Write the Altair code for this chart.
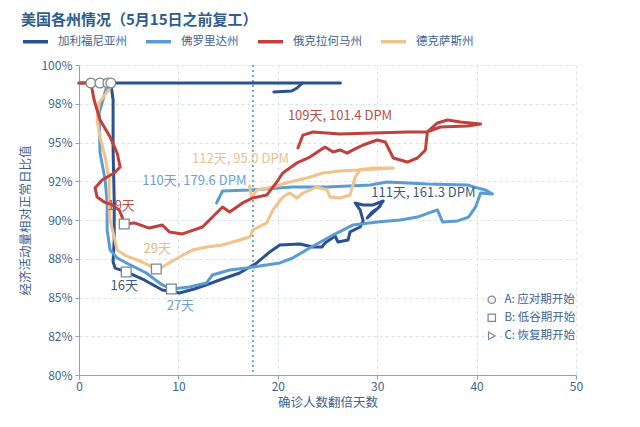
import altair as alt
import pandas as pd

FONT = "Noto Sans CJK SC"
TXT = "#3d6391"

series_names = ["加利福尼亚州", "佛罗里达州", "俄克拉何马州", "德克萨斯州"]
series_colors = ["#2c5190", "#5b9bd5", "#c0413b", "#f2c28c"]

# California (main path)
ca_x = [0, 3.2, 3.43, 3.43, 3.54, 3.54, 3.43, 3.64, 4.75, 6.57, 8.38, 10.1, 11.6, 12.83, 14.14, 16.16,
        17.88, 19.19, 20.2, 22.22, 23.54, 24.44, 24.75, 25.76, 26.06, 27.07, 27.27, 28.28, 28.59, 28.28,
        27.78, 28.59, 29.6, 30.61, 30.1, 29.49, 29.0, 30.3]
ca_y = [98.84, 98.84, 97.74, 94.52, 91.29, 88.71, 87.29, 86.9, 86.65, 86.13, 85.48, 85.29, 85.55, 85.81,
        86.13, 86.58, 87.23, 87.94, 88.39, 88.45, 88.26, 88.26, 88.52, 88.97, 88.58, 88.71, 89.23, 89.55,
        89.94, 90.65, 91.1, 90.97, 90.97, 91.23, 90.77, 90.52, 90.13, 90.9]
ca_top_x = [3.2, 26.3]
ca_top_y = [98.84, 98.84]
ca_small_x = [19.6, 21.4, 21.9, 22.5]
ca_small_y = [98.26, 98.32, 98.5, 98.84]

# Florida
fl_x = [0, 2.9, 2.02, 2.12, 2.63, 2.83, 2.83, 3.13, 3.84, 5.15, 6.77, 8.38, 9.29, 11.11, 12.83, 13.43,
        15.15, 16.87, 18.18, 20.2, 21.5, 23.2, 25.56, 27.58, 30.0, 32.32, 34.04, 36.06, 36.57, 38.08,
        39.19, 39.9, 40.4, 41.6, 40.9, 40.1, 39.1, 35.05, 31.0, 29.3, 24.95, 21.5, 17.17, 14.44, 13.84]
fl_y = [98.84, 98.84, 96.9, 94.32, 92.58, 91.1, 89.35, 88.06, 87.55, 87.1, 86.58, 85.81, 85.55, 85.68,
        85.94, 86.45, 86.77, 86.9, 87.03, 87.23, 87.55, 88.19, 89.03, 89.68, 89.87, 90.0, 90.19, 90.65,
        89.87, 89.94, 90.19, 90.84, 91.74, 91.68, 91.94, 92.06, 92.26, 92.32, 92.45, 92.26, 92.13, 92.13,
        91.94, 91.87, 91.1]

# Oklahoma
ok_x = [0, 1.2, 1.52, 2.12, 3.13, 3.84, 4.14, 3.54, 2.32, 1.62, 1.82, 2.53, 3.33, 4.04, 4.34, 4.55,
        5.56, 7.07, 8.38, 9.09, 10.4, 12.42, 13.43, 14.44, 15.15, 16.46, 17.47, 18.89, 19.9, 20.5, 21.92,
        23.23, 24.75, 25.56, 26.26, 26.97, 27.58, 28.59, 30.0, 30.81, 31.62, 33.03, 34.04, 34.85, 35.05,
        36.06, 37.07, 38.38, 40.4, 39.09, 36.36, 35.05, 33.03, 29.6, 26.26, 23.54, 22.53, 22.02]
ok_y = [98.84, 98.84, 97.74, 96.45, 95.35, 94.32, 93.42, 93.03, 92.58, 92.06, 91.48, 91.16, 90.97, 90.65,
        90.19, 89.74, 89.81, 89.48, 89.68, 89.23, 89.1, 89.55, 90.19, 90.84, 90.52, 91.1, 91.42, 91.61,
        92.45, 93.03, 93.68, 94.06, 94.71, 94.39, 94.52, 94.32, 94.52, 94.84, 95.16, 95.03, 94.0, 93.74,
        94.0, 94.52, 95.68, 96.26, 96.45, 96.32, 96.19, 96.06, 96.0, 95.68, 95.68, 95.61, 95.55, 95.68,
        95.48, 94.65]

# Texas
tx_x = [0, 2.1, 3.13, 2.02, 1.82, 2.12, 2.63, 3.03, 3.03, 3.13, 3.54, 3.84, 4.75, 6.36, 7.37, 7.78,
        8.38, 10.1, 11.41, 12.83, 14.44, 16.16, 17.17, 17.47, 18.89, 19.5, 20.5, 21.21, 21.92, 22.53,
        23.94, 24.95, 25.25, 26.26, 27.27, 27.78, 28.28, 30.0, 31.62, 29.6, 27.98, 26.26, 24.55, 22.93,
        21.21, 19.5, 17.88, 17.37, 17.17]
tx_y = [98.84, 98.84, 98.52, 97.55, 96.45, 95.35, 94.06, 92.58, 91.1, 90.0, 88.9, 88.06, 87.68, 87.29,
        86.97, 86.84, 86.97, 87.61, 88.06, 88.26, 88.39, 88.71, 88.9, 89.35, 89.81, 90.65, 91.48, 91.74,
        91.42, 91.74, 92.13, 91.94, 91.48, 91.42, 91.61, 92.77, 93.23, 93.29, 93.35, 93.35, 93.23, 93.16,
        93.03, 92.71, 92.45, 92.13, 91.94, 91.42, 92.19]

# markers
marker_names = ["A: 应对期开始", "B: 低谷期开始", "C: 恢复期开始"]
marker_shapes = ["circle", "square", "triangle-right"]
circle_x = [1.2, 2.1, 2.9, 3.2]
circle_y = [98.84, 98.84, 98.84, 98.84]
square_x = [4.75, 9.29, 4.55, 7.78]
square_y = [86.65, 85.55, 89.74, 86.84]

# annotations
ann_text = ["19天", "16天", "29天", "27天", "110天, 179.6 DPM", "112天, 95.0 DPM",
            "109天, 101.4 DPM", "111天, 161.3 DPM"]
ann_x = [4.24, 4.55, 7.88, 10.2, 11.6, 16.26, 26.26, 34.65]
ann_y = [90.9, 85.74, 88.13, 84.45, 92.52, 93.94, 96.71, 91.74]
ann_color = ["#b5504b", "#3d5a80", "#e8b98a", "#6fa0d0", "#6fa0d0", "#ebbf8f", "#b5504b", "#3d5a80"]

y_tick_values = [80, 82.5, 85, 87.5, 90, 92.5, 95, 97.5, 100]
y_tick_labels = ["80%", "82%", "85%", "88%", "90%", "92%", "95%", "98%", "100%"]
x_tick_values = [0, 10, 20, 30, 40, 50]
ref_x = [17.5]

rows = []
def add(name, seg, xs, ys):
    for i, (a, b) in enumerate(zip(xs, ys)):
        rows.append({"series": name, "seg": f"{name}-{seg}", "i": i, "x": a, "y": b})

add(series_names[0], "top", ca_top_x, ca_top_y)
add(series_names[0], "small", ca_small_x, ca_small_y)
add(series_names[0], "main", ca_x, ca_y)
add(series_names[1], "main", fl_x, fl_y)
add(series_names[3], "main", tx_x, tx_y)
add(series_names[2], "main", ok_x, ok_y)
lines_df = pd.DataFrame(rows)

mk = []
for a, b in zip(circle_x, circle_y):
    mk.append({"x": a, "y": b, "m": marker_names[0]})
for a, b in zip(square_x, square_y):
    mk.append({"x": a, "y": b, "m": marker_names[1]})
mk_df = pd.DataFrame(mk)

ann_df = pd.DataFrame({"t": ann_text, "x": ann_x, "y": ann_y, "c": ann_color})

label_expr = "[" + ",".join(f"'{l}'" for l in y_tick_labels) + "][round((datum.value-80)/2.5)]"

xscale = alt.Scale(domain=[0, 50], nice=False, zero=False)
yscale = alt.Scale(domain=[80, 100], nice=False, zero=False)

xaxis = alt.Axis(values=x_tick_values, title="确诊人数翻倍天数", grid=True, labelOverlap=False,
                 labelFlush=False)
yaxis = alt.Axis(values=y_tick_values, labelExpr=label_expr, title="经济活动量相对正常日比值", grid=True,
                 labelOverlap=False, labelFlush=False)

X = alt.X("x:Q", scale=xscale, axis=xaxis)
Y = alt.Y("y:Q", scale=yscale, axis=yaxis)

lines = alt.Chart(lines_df).mark_line(strokeWidth=3, strokeJoin="round", strokeCap="round").encode(
    x=X, y=Y,
    color=alt.Color("series:N", scale=alt.Scale(domain=series_names, range=series_colors),
                    legend=alt.Legend(title=None, orient="none", legendX=-58, legendY=-38,
                                      direction="horizontal", symbolType="stroke",
                                      symbolStrokeWidth=3.5, symbolSize=625, labelFontSize=11.5,
                                      labelFont=FONT, labelColor=TXT, columnPadding=12,
                                      labelOffset=8, padding=0)),
    detail="seg:N",
    order="i:Q",
)

rule = alt.Chart(pd.DataFrame({"x": ref_x})).mark_rule(
    strokeDash=[2, 3], color="#4d8fa6", strokeWidth=1.5).encode(x=X)

points = alt.Chart(mk_df).mark_point(filled=False, color="#7a8798", fill="white", fillOpacity=1,
                                     strokeWidth=1.3, size=95).encode(
    x=X, y=Y,
    shape=alt.Shape("m:N", scale=alt.Scale(domain=marker_names, range=marker_shapes),
                    legend=alt.Legend(title=None, orient="none", legendX=407, legendY=229,
                                      direction="vertical", symbolSize=55, labelFontSize=11.5,
                                      labelFont=FONT, labelColor=TXT, rowPadding=5, labelOffset=7,
                                      padding=0, symbolStrokeWidth=1.2)),
)

texts = alt.Chart(ann_df).mark_text(font=FONT, fontSize=13, baseline="middle", align="center").encode(
    x=X, y=Y,
    text="t:N",
    fill=alt.Fill("c:N", scale=None),
)

chart = alt.layer(rule, lines, points, texts).properties(
    width=497, height=310,
    padding={"left": 71, "top": 57, "right": 10, "bottom": 40},
    autosize=alt.AutoSizeParams(type="none"),
    title=alt.TitleParams("美国各州情况（5月15日之前复工）", anchor="start", frame="group", dx=-58,
                          offset=6, dy=7, fontSize=15, fontWeight="bold", color="#2e5d8c", font=FONT),
).configure_view(stroke=None).configure_axis(
    labelFont=FONT, titleFont=FONT, labelFontSize=12, titleFontSize=12.5,
    labelColor=TXT, titleColor=TXT, titleFontWeight="normal",
    domainColor="#8fa3b8", tickColor="#8fa3b8", tickSize=4,
    gridColor="#dbe2ea", gridDash=[3, 3], gridWidth=1,
).configure_axisY(titlePadding=8, labelPadding=3).configure_axisX(titlePadding=4)

chart.save("out.html", embed_options={"renderer": "svg", "actions": False})
